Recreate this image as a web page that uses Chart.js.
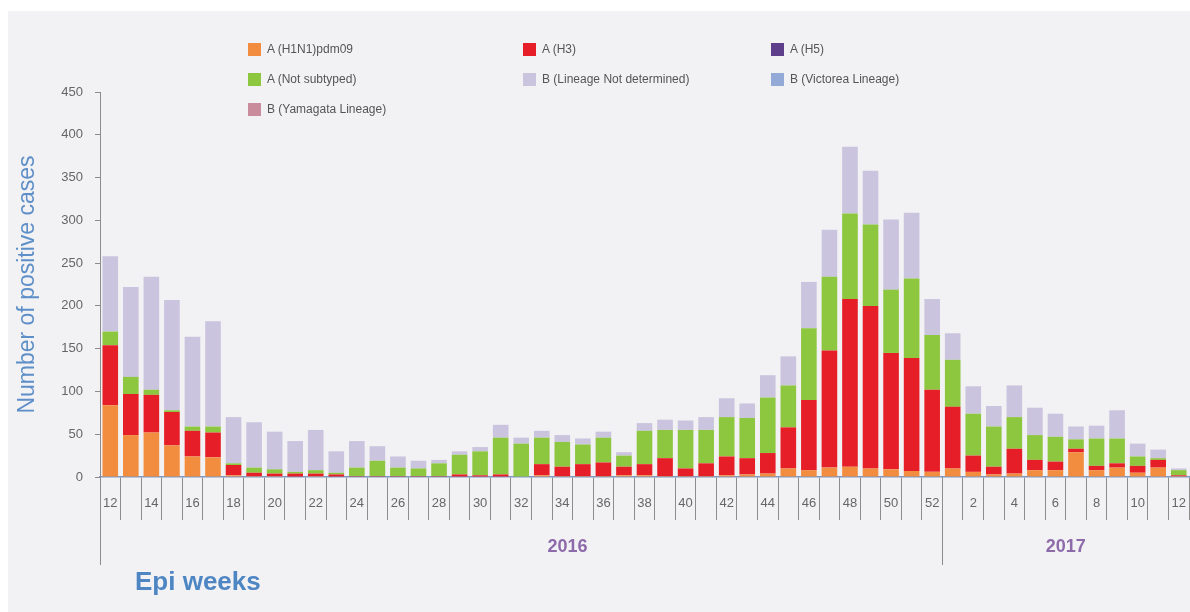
<!DOCTYPE html>
<html>
<head>
<meta charset="utf-8">
<script src="https://cdn.jsdelivr.net/npm/chart.js@4.4.1/dist/chart.umd.min.js"></script>
<style>
  html, body { margin: 0; padding: 0; background: #fff; }
  #wrap { position: relative; width: 1190px; height: 612px; overflow: hidden; }
  #fundo { position: absolute; left: 8px; top: 11px; right: 0; bottom: 0; background: #f2f2f4; }
  #grafico { position: absolute; left: 0; top: 0; width: 1190px; height: 612px; }
  #legenda {
    position: absolute; left: 248px; top: 42px;
    display: grid; grid-template-columns: 275px 248px 220px; row-gap: 16px;
    font: 12px "Liberation Sans", Arial, sans-serif; color: #555;
  }
  .item { display: flex; align-items: center; height: 14px; white-space: nowrap; }
  .caixa { width: 13px; height: 13px; margin-right: 6px; }
</style>
</head>
<body>
<div id="wrap">
  <div id="fundo"></div>
  <canvas id="grafico" width="1190" height="612"></canvas>
  <div id="legenda"></div>
</div>
<script>
// semanas epidemiológicas: 12-52 de 2016, 1-12 de 2017
const semanas = [12,13,14,15,16,17,18,19,20,21,22,23,24,25,26,27,28,29,30,31,
                 32,33,34,35,36,37,38,39,40,41,42,43,44,45,46,47,48,49,50,51,52,
                 1,2,3,4,5,6,7,8,9,10,11,12];
const anos = ['2016', '2017'];

const h1n1 = [84,49,52,37,24,23,2,1,1,0, 1,0,0,0,0,0,0,0,0,0,
              0,2,1,1,1,2,2,1,1,1, 2,3,4,10,8,11,12,10,9,7, 6,
              10,6,3,4,8,8,29,8,11,5,11,1];
const h3 = [70,48,44,39,30,29,12,4,3,4, 3,3,1,1,1,1,1,3,2,3,
            0,13,11,14,16,10,13,21,9,15, 22,19,24,48,82,137,196,190,136,132, 96,
            72,19,9,29,12,10,4,5,5,8,9,1];
const h5 = semanas.map(() => 0);
const naoSubtipado = [16,20,6,2,5,7,2,6,5,2, 4,2,10,18,10,9,15,23,28,43,
                      39,31,29,23,29,13,39,33,45,39, 46,47,65,49,84,86,100,95,74,93, 64,
                      55,49,47,37,29,29,11,32,29,11,2,6];
const bNaoDet = [88,105,132,129,105,123,54,53,44,36, 47,25,31,17,13,9,4,4,5,15,
                 7,8,8,7,7,4,9,12,11,15, 22,17,26,34,54,55,78,63,82,77, 42,
                 31,32,24,37,32,27,15,15,33,15,10,2];
const bVictoria = semanas.map(() => 0);
const bYamagata = semanas.map(() => 0);

const yTicks = [0,50,100,150,200,250,300,350,400,450];

const series = [
  { label: 'A (H1N1)pdm09', data: h1n1, cor: '#f28c3f' },
  { label: 'A (H3)', data: h3, cor: '#e61e28' },
  { label: 'A (H5)', data: h5, cor: '#5e3f8c' },
  { label: 'A (Not subtyped)', data: naoSubtipado, cor: '#8dc63f' },
  { label: 'B (Lineage Not determined)', data: bNaoDet, cor: '#cac4de' },
  { label: 'B (Victorea Lineage)', data: bVictoria, cor: '#94aad6' },
  { label: 'B (Yamagata Lineage)', data: bYamagata, cor: '#c98c9c' }
];

const fonte = '"Liberation Sans", Arial, sans-serif';

// linhas dos anos + título do eixo x
const anosPlugin = {
  id: 'anos',
  afterDraw(chart, args, opts) {
    const x = chart.scales.x;
    const area = chart.chartArea;
    const ctx = chart.ctx;
    const meia = (x.getPixelForValue(1) - x.getPixelForValue(0)) / 2;

    const inicios = [0];
    semanas.forEach((s, i) => { if (i > 0 && s < semanas[i - 1]) inicios.push(i); });

    ctx.save();
    ctx.strokeStyle = '#8c8c8c';
    ctx.lineWidth = 1;
    inicios.forEach(i => {
      const px = Math.round(x.getPixelForValue(i) - meia) + 0.5;
      ctx.beginPath();
      ctx.moveTo(px, area.bottom);
      ctx.lineTo(px, area.bottom + opts.alturaLinha);
      ctx.stroke();
    });

    ctx.font = 'bold 18px ' + fonte;
    ctx.fillStyle = '#8d6aaa';
    ctx.textAlign = 'center';
    ctx.textBaseline = 'middle';
    inicios.forEach((ini, k) => {
      const fim = k + 1 < inicios.length ? inicios[k + 1] : semanas.length;
      const a = x.getPixelForValue(ini) - meia;
      const b = x.getPixelForValue(fim - 1) + meia;
      ctx.fillText(anos[k], a + (b - a) * opts.posicao[k], area.bottom + opts.yAno);
    });

    ctx.font = 'bold 26px ' + fonte;
    ctx.fillStyle = '#4e86c4';
    ctx.textAlign = 'left';
    ctx.fillText('Epi weeks', area.left + 35, area.bottom + 106);
    ctx.restore();
  }
};

const grafico = new Chart(document.getElementById('grafico'), {
  type: 'bar',
  data: {
    labels: semanas.map(String),
    datasets: series.map(s => ({
      label: s.label,
      data: s.data,
      backgroundColor: s.cor,
      barPercentage: 0.76,
      categoryPercentage: 1.0
    }))
  },
  options: {
    responsive: false,
    animation: false,
    layout: { padding: { top: 92, right: 1, bottom: 0, left: 0 } },
    plugins: {
      legend: { display: false },
      tooltip: { enabled: false },
      anos: { alturaLinha: 88, yAno: 70, posicao: [0.555, 0.5] }
    },
    scales: {
      x: {
        stacked: true,
        offset: true,
        afterFit: s => { s.height = 135; },
        grid: { offset: true, drawOnChartArea: false, tickLength: 43, color: '#8c8c8c' },
        border: { color: '#7f98c2', width: 1.5 },
        ticks: {
          autoSkip: false,
          maxRotation: 0,
          padding: -24,
          color: '#666',
          font: { family: fonte, size: 13 },
          callback: function (v) {
            const w = Number(this.getLabelForValue(v));
            return w % 2 === 0 ? String(w) : '';
          }
        }
      },
      y: {
        stacked: true,
        min: 0,
        max: 450,
        afterFit: s => { s.width = 100; },
        afterBuildTicks: s => { s.ticks = yTicks.map(v => ({ value: v })); },
        grid: { drawOnChartArea: false, tickLength: 5, color: '#8c8c8c' },
        border: { color: '#8c8c8c' },
        ticks: { color: '#666', padding: 12, font: { family: fonte, size: 13 } },
        title: {
          display: true,
          text: 'Number of positive cases',
          color: '#5e8fc8',
          font: { family: fonte, size: 23 },
          padding: { top: 14, bottom: 0 }
        }
      }
    }
  },
  plugins: [anosPlugin]
});

// legenda em html, três colunas
const legenda = document.getElementById('legenda');
series.forEach(s => {
  const item = document.createElement('div');
  item.className = 'item';
  item.innerHTML = '<span class="caixa" style="background:' + s.cor + '"></span>' + s.label;
  legenda.appendChild(item);
});
</script>
</body>
</html>
